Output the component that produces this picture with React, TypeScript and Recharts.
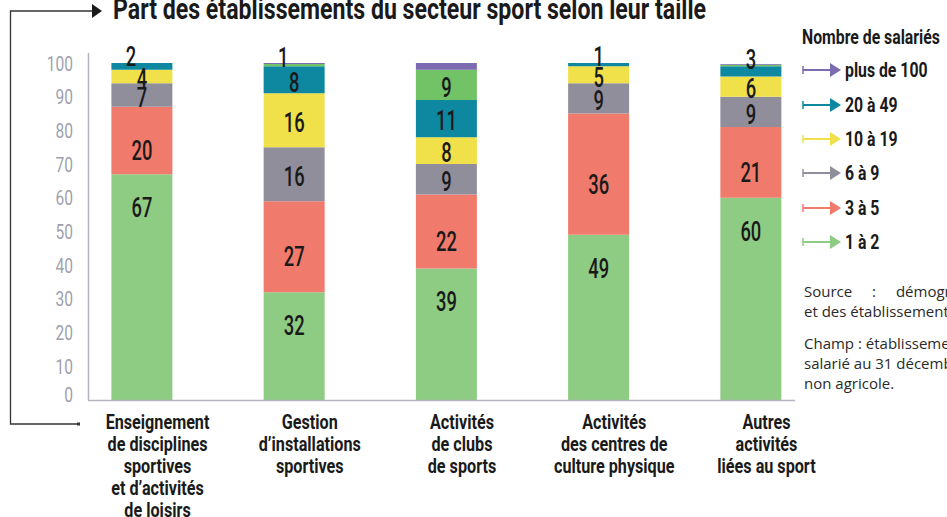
import { BarChart, Bar, XAxis, YAxis, Legend, LabelList } from "recharts";

const categories = [
  "Enseignement\nde disciplines\nsportives\net d’activités\nde loisirs",
  "Gestion\nd’installations\nsportives",
  "Activités\nde clubs\nde sports",
  "Activités\ndes centres de\nculture physique",
  "Autres\nactivités\nliées au sport",
];

// part des établissements (%) par taille
const unADeux = [67, 32, 39, 49, 60];
const troisACinq = [20, 27, 22, 36, 21];
const sixANeuf = [7, 16, 9, 9, 9];
const dixA19 = [4, 16, 8, 5, 6];
const vingtA49 = [2, 8, 11, 1, 3];
const cinquanteA99 = [0.3, 0.7, 9, 0, 0.45];
const plusDe100 = [0, 0.3, 2, 0, 0.25];

const yTicks = [0, 10, 20, 30, 40, 50, 60, 70, 80, 90, 100];

const FONT = "Roboto, 'Liberation Sans', sans-serif";

const series = [
  { key: "a", name: "1 à 2", color: "#8ecb83", values: unADeux, labelPos: "top", legend: true },
  { key: "b", name: "3 à 5", color: "#f07a6c", values: troisACinq, labelPos: "low", legend: true },
  { key: "c", name: "6 à 9", color: "#918e9b", values: sixANeuf, labelPos: "mid", legend: true },
  { key: "d", name: "10 à 19", color: "#f0e04a", values: dixA19, labelPos: "mid", legend: true },
  { key: "e", name: "20 à 49", color: "#0d88a0", values: vingtA49, labelPos: "mid", legend: true },
  { key: "f", name: "50 à 99", color: "#72c266", values: cinquanteA99, labelPos: "mid", legend: false },
  { key: "g", name: "plus de 100", color: "#7c6bb0", values: plusDe100, labelPos: "none", legend: true },
];

const data = categories.map((name, i) => {
  const row: Record<string, any> = { name };
  series.forEach((s) => (row[s.key] = s.values[i]));
  return row;
});

const makeLabel = (si: number) => (props: any) => {
  const { x, y, width, height, value, index } = props;
  const pos = series[si].labelPos;
  const v = Number(value);
  if (pos === "none" || !v || v < 0.5) return null;
  let cx = Number(x) + Number(width) / 2;
  let cy = Number(y) + Number(height) / 2 + 2;
  if (v < 3.5) {
    cy = Number(y) - 7;
    // petit segment posé sur un autre petit segment : on décale le chiffre
    const below = si > 0 ? series[si - 1].values[index] : 99;
    if (below < 5) cx -= 11;
  } else if (pos === "top") cy = Number(y) + 33;
  else if (pos === "low") cy = Number(y) + Number(height) / 2 + 10;
  return (
    <g transform={`translate(${cx} ${cy}) scale(0.68 1)`}>
      <text x={0} y={0} dy="0.36em" textAnchor="middle" fill="#1a1a1a" fontSize={27} fontWeight={500} fontFamily={FONT}>
        {Math.round(v)}
      </text>
    </g>
  );
};

const CategoryTick = (props: any) => {
  const { x, y, payload } = props;
  const lines = String(payload.value).split("\n");
  return (
    <g transform={`translate(${x + 16} ${y + 29}) scale(0.77 1)`}>
      <text x={0} y={0} textAnchor="middle" fill="#1a1a1a" fontSize={21} fontWeight="bold" fontFamily={FONT}>
        {lines.map((l, i) => (
          <tspan key={i} x={0} dy={i === 0 ? 0 : 22}>
            {l}
          </tspan>
        ))}
      </text>
    </g>
  );
};

const ValueTick = (props: any) => {
  const { x, y, payload } = props;
  const ty = y - (payload.value === 0 ? 6 : 0);
  return (
    <g transform={`translate(${x + 7.5} ${ty}) scale(0.74 1)`}>
      <text x={0} y={0} dy="0.36em" textAnchor="end" fill="#a09fae" fontSize={21} fontFamily={FONT}>
        {payload.value}
      </text>
    </g>
  );
};

const squeeze = { display: "inline-block", transform: "scaleX(0.79)", transformOrigin: "left center", whiteSpace: "nowrap" as const };

const LegendContent = (props: any) => {
  const items = (props.payload || [])
    .filter((p: any) => p.type !== "none")
    .slice()
    .sort((p: any, q: any) => String(q.dataKey).localeCompare(String(p.dataKey)));
  return (
    <div style={{ fontFamily: FONT, color: "#1a1a1a", fontWeight: "bold" }}>
      <div style={{ fontSize: 20, lineHeight: "26px", height: 26 }}>
        <span style={squeeze}>Nombre de salariés</span>
      </div>
      <div style={{ marginTop: 3 }}>
        {items.map((p: any) => (
          <div key={p.value} style={{ display: "flex", alignItems: "center", height: 34.4 }}>
            <svg width={42} height={18} style={{ display: "block", flex: "none" }}>
              <line x1={1} y1={9} x2={29} y2={9} stroke={p.color} strokeWidth={2} />
              <line x1={1} y1={5} x2={1} y2={13} stroke={p.color} strokeWidth={1.5} />
              <polygon points="28,2 39,9 28,16" fill={p.color} />
            </svg>
            <span style={{ ...squeeze, fontSize: 20, marginLeft: 1 }}>{p.value}</span>
          </div>
        ))}
      </div>
    </div>
  );
};

export default function App() {
  return (
    <div style={{ position: "absolute", left: 0, top: 0, width: 947, height: 517, overflow: "hidden", background: "#fff" }}>
      <BarChart
        width={947}
        height={517}
        data={data}
        margin={{ top: 63, right: 120.4, bottom: 0, left: 25.4 }}
        barSize={61}
      >
        <XAxis dataKey="name" height={117} interval={0} axisLine={false} tickLine={false} tickSize={0} tickMargin={0} tick={CategoryTick} />
        <YAxis domain={[0, 100]} ticks={yTicks} width={40} allowDataOverflow axisLine={false} tickLine={false} tickSize={0} tickMargin={0} tick={ValueTick} />
        <Legend
          layout="vertical"
          align="center"
          verticalAlign="middle"
          content={LegendContent}
          wrapperStyle={{ left: 802, top: 24, width: 150 }}
        />
        {series.map((s, si) => (
          <Bar key={s.key} dataKey={s.key} name={s.name} stackId="t" fill={s.color} isAnimationActive={false} legendType={s.legend ? "rect" : "none"}>
            <LabelList dataKey={s.key} content={makeLabel(si)} />
          </Bar>
        ))}
      </BarChart>

      <svg width={947} height={517} style={{ position: "absolute", left: 0, top: 0, pointerEvents: "none" }}>
        <text x={113} y={19} fontSize={30} fontWeight="bold" fontFamily={FONT} fill="#1a1a1a" textLength={593} lengthAdjust="spacingAndGlyphs">
          Part des établissements du secteur sport selon leur taille
        </text>
        <polyline points="93,11 10.5,11 10.5,424 78,424" fill="none" stroke="#333" strokeWidth={1.3} />
        <rect x={77} y={422.5} width={3} height={3} fill="#333" />
        <polygon points="92,4 102,11 92,18" fill="#1a1a1a" />
        <line x1={88.5} y1={53} x2={88.5} y2={400} stroke="#b4b3c0" strokeWidth={1.5} />
        <line x1={88} y1={400.5} x2={795} y2={400.5} stroke="#b4b3c0" strokeWidth={1.5} />
      </svg>

      <div style={{ position: "absolute", left: 804, top: 281, fontFamily: "'Open Sans', 'Noto Sans', sans-serif", fontSize: 15, color: "#2a2a2a", whiteSpace: "nowrap" }}>
        <div style={{ lineHeight: "20px", wordSpacing: 16 }}>Source : démographie des entreprises</div>
        <div style={{ lineHeight: "20px" }}>et des établissements (REE-Sirene).</div>
        <div style={{ lineHeight: "20px", marginTop: 12 }}>Champ : établissements ayant au moins un</div>
        <div style={{ lineHeight: "20px" }}>salarié au 31 décembre, secteur marchand</div>
        <div style={{ lineHeight: "20px" }}>non agricole.</div>
      </div>
    </div>
  );
}
